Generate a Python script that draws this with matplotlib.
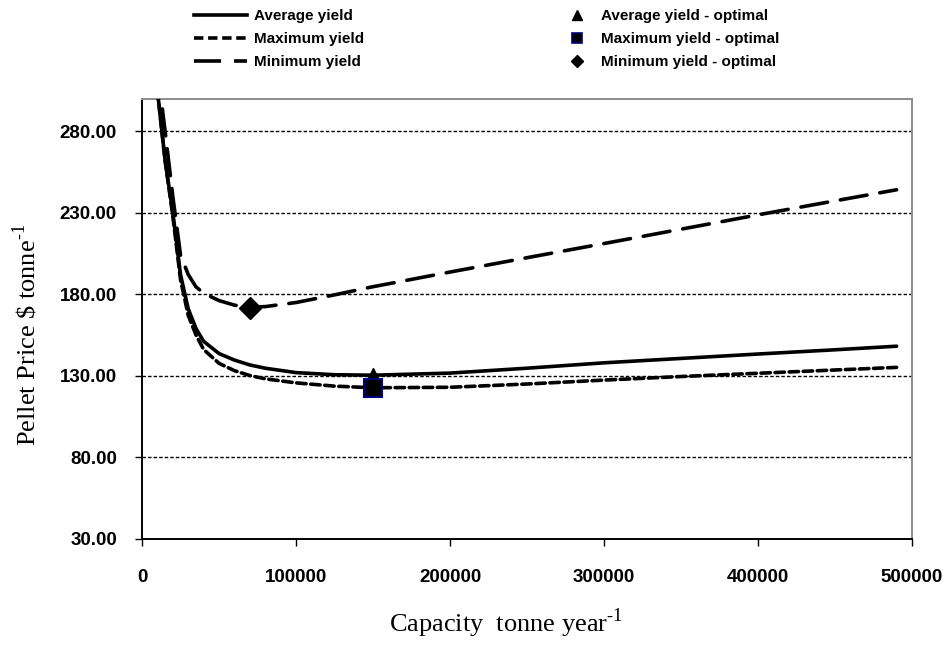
import matplotlib
matplotlib.use("Agg")
import matplotlib.pyplot as plt
from matplotlib.lines import Line2D
from matplotlib.ticker import FormatStrFormatter

plt.rcParams['font.family'] = ['Liberation Sans', 'DejaVu Sans']
plt.rcParams['mathtext.fontset'] = 'custom'
plt.rcParams['mathtext.rm'] = 'Liberation Serif'

# capacity (tonne / year) and pellet price ($ / tonne)
capacity = [10000, 15000, 20000, 25000, 30000, 35000, 40000, 50000, 60000, 70000,
            80000, 100000, 125000, 150000, 200000, 250000, 300000, 350000, 400000,
            450000, 490000]
avg_yield = [305, 262, 230, 192, 171, 159, 151, 143.5, 139.5, 136.5,
             134.5, 131.8, 130.5, 130.2, 131.5, 134.5, 137.8, 140.5, 143.2,
             145.8, 148]
max_yield = [305, 262, 228, 189, 167, 155, 146, 137.5, 133, 130,
             128, 125.5, 123.5, 122.5, 122.8, 124.8, 127.2, 129.4, 131.4,
             133.4, 135]
min_yield = [318, 280, 240, 204, 192, 184.5, 180.5, 176, 173.2, 172,
             172.3, 174.8, 179.5, 184.5, 193.5, 202.3, 211, 219.8, 228.6,
             237.2, 244]

# optimal points
opt_capacity = [150000, 150000, 70000]
opt_price = [131, 122.5, 171.7]

y_ticks = [30, 80, 130, 180, 230, 280]
x_ticks = [0, 100000, 200000, 300000, 400000, 500000]

fig = plt.figure(figsize=(9.5, 6.47), dpi=100)
ax = fig.add_axes([142 / 950, 1 - 538.5 / 647, 770 / 950, 440 / 647])

for y in y_ticks[1:]:
    ax.axhline(y, color='black', lw=1.0, ls=(0, (2.5, 1.5)), zorder=1)

lw = 2.6
ax.plot(capacity, avg_yield, color='black', lw=lw, solid_capstyle='round', zorder=3)
ax.plot(capacity, max_yield, color='black', lw=lw, ls=(0, (2.6, 1.3)),
        dash_capstyle='round', zorder=3)
ax.plot(capacity, min_yield, color='black', lw=lw, ls=(0, (7.5, 3.6)),
        dash_capstyle='round', zorder=3)

ax.plot(opt_capacity[0], opt_price[0], '^', color='black', ms=8, zorder=4)
ax.plot(opt_capacity[1], opt_price[1], 's', mfc='black', mec='#000080', mew=1.5,
        ms=12.5, zorder=5)
ax.plot(opt_capacity[2], opt_price[2], 'D', color='black', ms=11.5, zorder=4)

ax.set_xlim(0, 500000)
ax.set_ylim(30, 300)
ax.set_xticks(x_ticks)
ax.set_yticks(y_ticks)
ax.yaxis.set_major_formatter(FormatStrFormatter('%.2f'))
ax.xaxis.set_major_formatter(FormatStrFormatter('%d'))
for lab in ax.get_xticklabels() + ax.get_yticklabels():
    lab.set_fontweight('bold')
ax.tick_params(axis='y', direction='out', length=5, width=1, pad=13, labelsize=13.5)
ax.tick_params(axis='x', direction='out', length=5, width=1, pad=17, labelsize=13.5)

for side in ['left', 'bottom']:
    ax.spines[side].set_color('black')
    ax.spines[side].set_linewidth(1.4)
for side in ['top', 'right']:
    ax.spines[side].set_color('#8c8c8c')
    ax.spines[side].set_linewidth(1.4)

fig.text(506 / 950, 1 - 623 / 647, r'Capacity  tonne year$^{\text{-1}}$',
         family='Liberation Serif', fontsize=19, ha='center', va='center')
fig.text(26 / 950, 1 - 335 / 647, r'Pellet Price \$ tonne$^{\text{-1}}$',
         family='Liberation Serif', fontsize=19, ha='center', va='center',
         rotation=90)

line_handles = [
    Line2D([], [], color='black', lw=lw),
    Line2D([], [], color='black', lw=lw, ls=(0, (2.6, 1.3))),
    Line2D([], [], color='black', lw=lw, ls=(0, (7.5, 3.6))),
]
line_labels = ['Average yield', 'Maximum yield', 'Minimum yield']
marker_handles = [
    Line2D([], [], ls='none', marker='^', color='black', ms=7),
    Line2D([], [], ls='none', marker='s', mfc='black', mec='#000080', mew=1.2, ms=7),
    Line2D([], [], ls='none', marker='D', color='black', ms=6),
]
marker_labels = ['Average yield - optimal', 'Maximum yield - optimal',
                 'Minimum yield - optimal']

leg_kw = dict(frameon=False, loc='upper left', borderpad=0, borderaxespad=0,
              labelspacing=0.6, prop={'weight': 'bold', 'size': 11})
leg1 = fig.legend(line_handles, line_labels, bbox_to_anchor=(194 / 950, 1 - 9 / 647),
                  handlelength=3.5, handletextpad=0.45, **leg_kw)
leg2 = fig.legend(marker_handles, marker_labels, bbox_to_anchor=(566 / 950, 1 - 9 / 647),
                  handlelength=1.5, handletextpad=0.8, **leg_kw)

fig.savefig('out.png', dpi=100)
